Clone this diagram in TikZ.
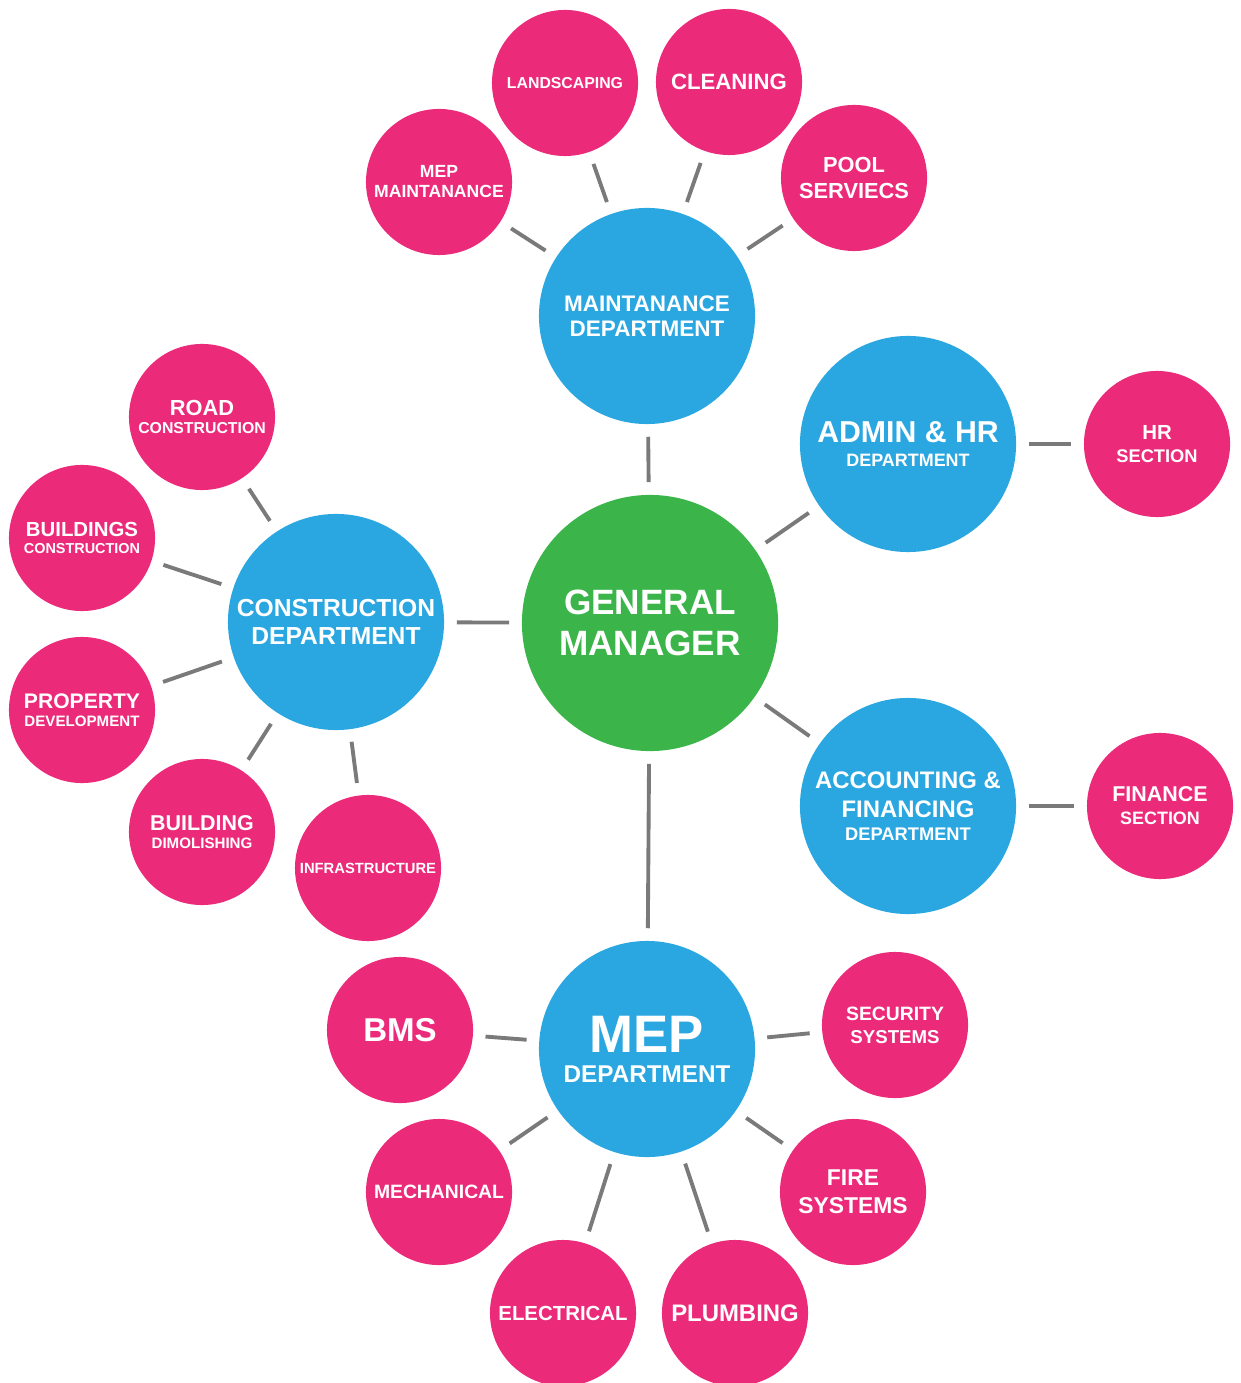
\documentclass[tikz,border=0pt]{standalone}
\usepackage{fontspec}
\setmainfont{Liberation Sans}

\definecolor{gmgreen}{HTML}{3BB54A}
\definecolor{deptblue}{HTML}{2AA7E0}
\definecolor{secpink}{HTML}{EC2A7A}
\definecolor{linkgray}{HTML}{7A7A7A}

\newcommand{\sz}[1]{\fontsize{#1}{#1}\selectfont}

\begin{document}
\begin{tikzpicture}[x=0.01cm, y=-0.01cm,
	lead/.style 2 args={font=\bfseries\fontsize{#1}{#2}\selectfont},
	gm/.style={fill=gmgreen, minimum size=2.56cm},
	dept/.style={fill=deptblue, minimum size=2.16cm},
	sect/.style={fill=secpink, minimum size=1.46cm},
	link/.style={draw=linkgray, line width=1.1pt, shorten <=0.12cm, shorten >=0.12cm}]
	
	\useasboundingbox (0,0) rectangle (1240,1383);
	
	\begin{scope}[every node/.style={circle, inner sep=0pt, text=white, align=center}]
		
		\node [gm, lead={10}{11.6}] (gm) at (650,623) {GENERAL\\MANAGER};
		
		\node [dept, lead={6.4}{7.1}] (maint) at (647,316) {MAINTANANCE\\DEPARTMENT};
		\node [dept, lead={7}{8}] (constr) at (336,622) {CONSTRUCTION\\DEPARTMENT};
		\node [dept, lead={6}{6.8}] (admin) at (908,444) {\sz{8.6}ADMIN \& HR\\\sz{5.1}DEPARTMENT};
		\node [dept, lead={6.8}{8.2}] (acct) at (908,806) {\sz{6.8}ACCOUNTING \&\\\sz{6.8}FINANCING\\[-1.7pt]\sz{5.2}DEPARTMENT};
		\node [dept, lead={7}{8.5}] (mep) at (647,1049) {\sz{15}MEP\\\sz{6.9}DEPARTMENT};
		
		\node [sect, lead={4.5}{5}] (landsc) at (565,83) {LANDSCAPING};
		\node [sect, lead={6.3}{7}] (clean) at (729,82) {CLEANING};
		\node [sect, lead={5}{5.7}] (mepm) at (439,182) {MEP\\MAINTANANCE};
		\node [sect, lead={6.2}{7.4}] (pool) at (854,178) {POOL\\SERVIECS};
		
		\node [sect, lead={5.5}{6.5}] (hrsec) at (1157,444) {\sz{5.8}HR\\\sz{5.2}SECTION};
		\node [sect, lead={5.5}{6.5}] (fin) at (1160,806) {\sz{6.1}FINANCE\\\sz{5.1}SECTION};
		
		\node [sect, lead={5}{5.1}] (road) at (202,417) {\sz{6.2}ROAD\\\sz{4.5}CONSTRUCTION};
		\node [sect, lead={5}{4.8}] (bldc) at (82,538) {\sz{5.8}BUILDINGS\\\sz{4.1}CONSTRUCTION};
		\node [sect, lead={5}{5.1}] (prop) at (82,710) {\sz{6}PROPERTY\\\sz{4.3}DEVELOPMENT};
		\node [sect, lead={5}{5.1}] (demo) at (202,832) {\sz{6.1}BUILDING\\\sz{4.3}DIMOLISHING};
		\node [sect, lead={4.2}{5}] (infra) at (368,868) {INFRASTRUCTURE};
		
		\node [sect, lead={9.4}{10}] (bms) at (400,1030) {BMS};
		\node [sect, lead={5.4}{6.5}] (secsys) at (895,1025) {\sz{5.5}SECURITY\\\sz{5.3}SYSTEMS};
		\node [sect, lead={5.5}{6}] (mech) at (439,1192) {MECHANICAL};
		\node [sect, lead={6.5}{8}] (fire) at (853,1192) {FIRE\\SYSTEMS};
		\node [sect, lead={5.8}{6}] (elec) at (563,1313) {ELECTRICAL};
		\node [sect, lead={6.8}{7}] (plumb) at (735,1313) {PLUMBING};
		
	\end{scope}
	
	\foreach \d in {maint,constr,admin,acct,mep}
		\draw [link] (gm) -- (\d);
	\foreach \s in {mepm,landsc,clean,pool}
		\draw [link] (maint) -- (\s);
	\foreach \s in {road,bldc,prop,demo,infra}
		\draw [link] (constr) -- (\s);
	\foreach \s in {bms,secsys,mech,elec,plumb,fire}
		\draw [link] (mep) -- (\s);
	\draw [link] (admin) -- (hrsec);
	\draw [link] (acct) -- (fin);
	
\end{tikzpicture}
\end{document}
